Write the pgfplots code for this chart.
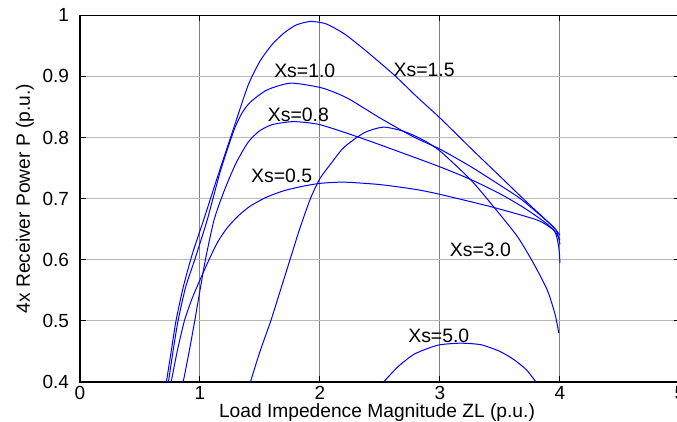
\documentclass[border=0pt]{standalone}
\usepackage{fontspec}
\setmainfont{Liberation Sans}
\usepackage{pgfplots}
\pgfplotsset{compat=1.18}

\begin{document}
\begin{tikzpicture}
\useasboundingbox (-40pt,-20pt) rectangle (298.5pt,191pt);
\clip (-40pt,-20pt) rectangle (298.5pt,191pt);
\begin{axis}[
  scale only axis,
  width=300pt, height=183.35pt,
  xmin=0, xmax=5, ymin=0.4, ymax=1,
  xtick={0,1,2,3,4,5},
  ytick={0.4,0.5,0.6,0.7,0.8,0.9,1},
  grid=major,
  x grid style={black!50, line width=0.5pt},
  y grid style={black!28, line width=0.5pt},
  axis line style={black, line width=0.7pt},
  tick style={black, line width=0.5pt},
  tick align=inside, major tick length=3pt,
  ticklabel style={font=\fontsize{9.5}{10}\selectfont},
  /pgf/number format/assume math mode=true,
  xlabel={Load Impedence Magnitude ZL (p.u.)},
  ylabel={4x Receiver Power P (p.u.)},
  label style={font=\fontsize{9.6}{10}\selectfont},
  xlabel style={at={(axis description cs:0.495,-0.084)}, anchor=center, inner sep=1pt},
  ylabel style={at={(axis description cs:-0.0917,0.5)}, anchor=center},
  xticklabel style={inner sep=1pt, yshift=-1pt},
  yticklabel style={xshift=-2pt},
  curve/.style={blue, line width=0.5pt, mark=none, smooth, tension=0.4},
]
% curve labels
\node[font=\fontsize{9.7}{10}\selectfont] at (axis cs:1.873,0.909) {Xs=1.0};
\node[font=\fontsize{9.7}{10}\selectfont] at (axis cs:1.82,0.837) {Xs=0.8};
\node[font=\fontsize{9.7}{10}\selectfont] at (axis cs:1.68,0.738) {Xs=0.5};
\node[font=\fontsize{9.7}{10}\selectfont] at (axis cs:2.868,0.911) {Xs=1.5};
\node[font=\fontsize{9.7}{10}\selectfont] at (axis cs:3.337,0.616) {Xs=3.0};
\node[font=\fontsize{9.7}{10}\selectfont] at (axis cs:2.99,0.476) {Xs=5.0};

% Xs=1.5 (highest)
\addplot[curve] coordinates {
(0.72,0.400) (0.76,0.450) (0.80,0.500) (0.86,0.555) (0.937,0.610) (1.03,0.665)
(1.15,0.738) (1.28,0.815) (1.40,0.885) (1.50,0.925) (1.60,0.952) (1.70,0.971)
(1.80,0.984) (1.92,0.990) (2.05,0.986) (2.20,0.970) (2.37,0.944) (2.62,0.902)
(2.80,0.868) (3.00,0.832) (3.28,0.778) (3.45,0.746) (3.73,0.693) (3.90,0.662)
(3.97,0.648) (4.00,0.640)};

% Xs=1.0
\addplot[curve] coordinates {
(0.737,0.400) (0.775,0.450) (0.817,0.500) (0.88,0.555) (0.956,0.600) (1.06,0.665)
(1.17,0.745) (1.283,0.812) (1.35,0.840) (1.42,0.858) (1.56,0.878) (1.756,0.889)
(2.00,0.882) (2.146,0.872) (2.26,0.861) (2.50,0.832) (2.78,0.801) (3.00,0.781)
(3.26,0.752) (3.50,0.722) (3.67,0.700) (3.87,0.667) (3.97,0.648) (4.00,0.625)};

% Xs=0.8
\addplot[curve] coordinates {
(0.86,0.400) (0.91,0.450) (0.956,0.500) (1.00,0.550) (1.045,0.600) (1.117,0.665)
(1.20,0.712) (1.30,0.758) (1.40,0.792) (1.49,0.810) (1.60,0.821) (1.78,0.826)
(2.00,0.821) (2.33,0.800) (2.60,0.781) (3.00,0.752) (3.26,0.731) (3.50,0.708)
(3.70,0.685) (3.87,0.662) (3.96,0.645) (3.99,0.620) (4.00,0.595)};

% Xs=0.5
\addplot[curve] coordinates {
(0.76,0.400) (0.81,0.450) (0.87,0.500) (0.935,0.537) (1.00,0.567) (1.075,0.600)
(1.15,0.630) (1.23,0.653) (1.32,0.672) (1.42,0.688) (1.55,0.702) (1.70,0.713)
(1.85,0.720) (2.00,0.725) (2.20,0.727) (2.50,0.723) (2.80,0.715) (3.00,0.707)
(3.42,0.687) (3.81,0.665) (3.95,0.648) (4.00,0.632)};

% Xs=3.0
\addplot[curve] coordinates {
(1.42,0.400) (1.50,0.450) (1.59,0.500) (1.67,0.550) (1.75,0.600) (1.83,0.650)
(1.92,0.700) (2.00,0.733) (2.09,0.757) (2.20,0.784) (2.37,0.808) (2.53,0.817)
(2.70,0.810) (2.85,0.797) (3.00,0.778) (3.26,0.730) (3.45,0.686) (3.645,0.638)
(3.78,0.594) (3.895,0.550) (3.96,0.510) (3.99,0.480)};

% Xs=5.0
\addplot[curve] coordinates {
(2.53,0.400) (2.65,0.425) (2.78,0.445) (2.90,0.455) (3.00,0.461) (3.17,0.4635)
(3.34,0.461) (3.50,0.450) (3.62,0.436) (3.72,0.420) (3.80,0.400)};
\end{axis}
\end{tikzpicture}
\end{document}
